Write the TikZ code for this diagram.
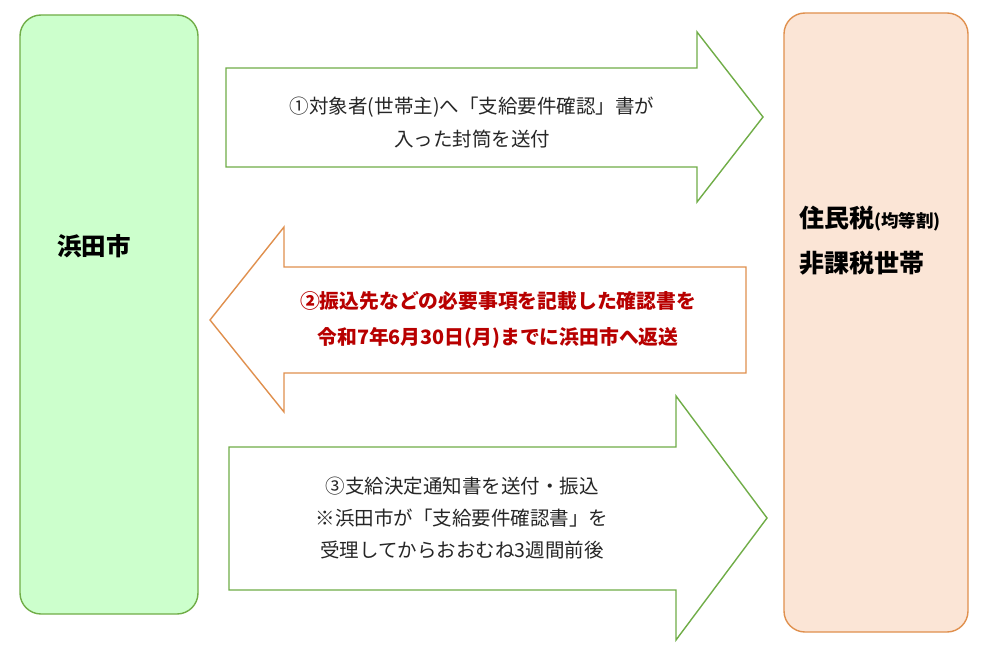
\documentclass[tikz,border=0pt]{standalone}
\usepackage{fontspec}
\setmainfont{Noto Sans CJK JP}
\definecolor{gfill}{HTML}{CCFFCC}
\definecolor{gline}{HTML}{70AD47}
\definecolor{ofill}{HTML}{FBE5D6}
\definecolor{oline}{HTML}{E0904E}
\definecolor{redtxt}{HTML}{B80000}
\begin{document}
\begin{tikzpicture}[x=1pt,y=-1pt,
  party/.style={draw, line width=1.4pt, rounded corners=21pt, inner sep=0pt},
  garrow/.style={draw=gline, line width=1.4pt, fill=white, line join=miter},
  oarrow/.style={draw=oline, line width=1.4pt, fill=white, line join=miter},
  msg/.style={align=center, font=\fontsize{19.5}{33}\selectfont, text=black!85},
  msgred/.style={align=center, font=\fontsize{19.8}{36}\selectfont\bfseries, text=redtxt},
  label/.style={align=left, anchor=west, inner sep=0pt}]
\useasboundingbox[fill=white] (0,0) rectangle (987,647);
% parties
\node[party, fill=gfill, draw=gline, minimum width=178pt, minimum height=599pt] (city) at (109,314.5) {};
\node[party, fill=ofill, draw=oline, minimum width=184pt, minimum height=619pt] (home) at (876,322.5) {};
\node[label, font=\fontsize{24.5}{24.5}\selectfont\bfseries] (cityname) at (57,246) {浜田市};
\node[label, font=\fontsize{25}{25}\selectfont\bfseries] (homeA) at (799,219) {住民税{\fontsize{17.5}{17.5}\selectfont(均等割)}};
\node[label, font=\fontsize{25}{25}\selectfont\bfseries] (homeB) at (799,263) {非課税世帯};
% arrow 1
\draw[garrow] (226,68) -- (697,68) -- (697,32) -- (763,117) -- (697,202) -- (697,167) -- (226,167) -- cycle;
\node[msg] (m1) at (472,123) {①対象者(世帯主)へ「支給要件確認」書が\\入った封筒を送付};
% arrow 2
\draw[oarrow] (746,267) -- (284,267) -- (284,227) -- (210,320) -- (284,412) -- (284,373) -- (746,373) -- cycle;
\node[msgred] (m2) at (498,320) {②振込先などの必要事項を記載した確認書を\\令和7年6月30日(月)までに浜田市へ返送};
% arrow 3
\draw[garrow] (229,447) -- (676,447) -- (676,396) -- (767,518) -- (676,640) -- (676,590) -- (229,590) -- cycle;
\node[msg, font=\fontsize{19.5}{32}\selectfont] (m3) at (462,518) {③支給決定通知書を送付・振込\\※浜田市が「支給要件確認書」を\\受理してからおおむね3週間前後};
\end{tikzpicture}
\end{document}
